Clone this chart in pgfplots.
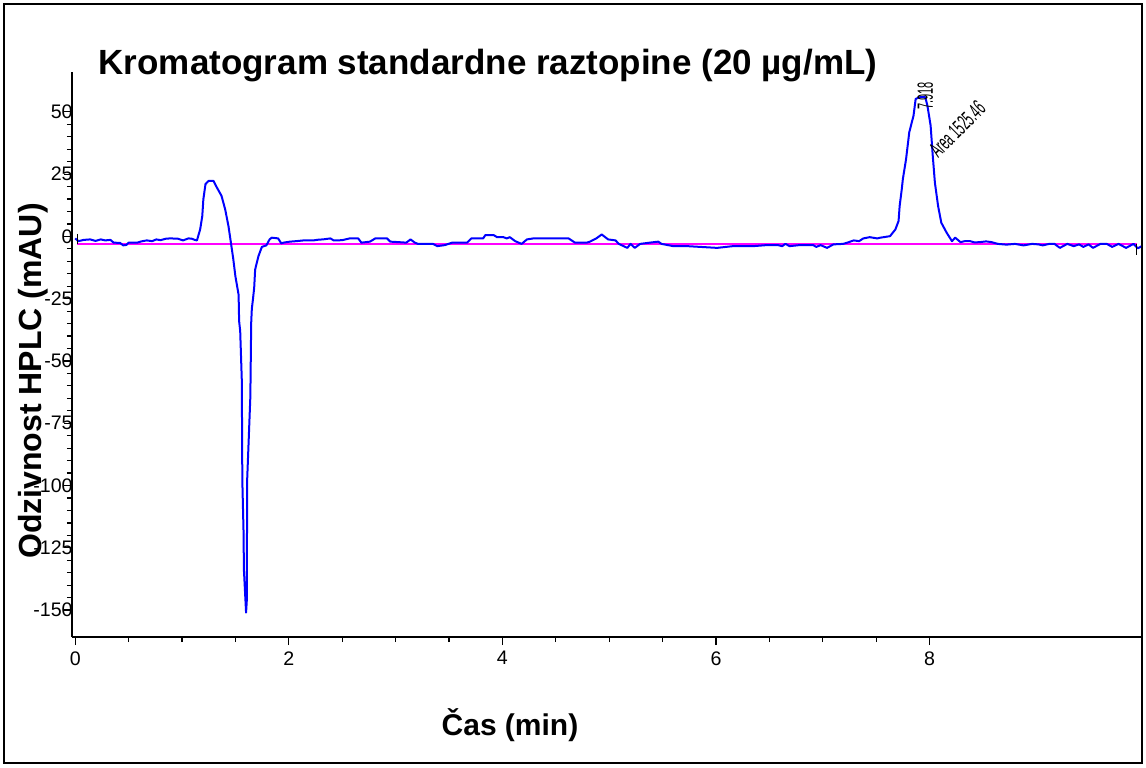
\documentclass[border=0pt]{standalone}
\usepackage{fontspec}
\setmainfont{Liberation Sans}
\usepackage{pgfplots}
\pgfplotsset{compat=1.18}
\usepackage{graphicx}
\definecolor{trace}{RGB}{0,0,255}
\definecolor{base}{RGB}{255,0,255}
\begin{document}
\begin{tikzpicture}
\useasboundingbox (0,0) rectangle (573pt,383.5pt);
\draw[line width=0.8pt] (2pt,2pt) rectangle (571pt,381.5pt);
\begin{axis}[
  at={(36pt,65pt)}, anchor=south west,
  scale only axis, width=534.5pt, height=282.5pt,
  xmin=-0.03, xmax=9.98, ymin=-160.8, ymax=66,
  axis x line=bottom, axis y line=left,
  axis line style={line width=0.75pt,-},
  xtick={0,2,4,6,8}, minor x tick num=3,
  ytick={-150,-125,-100,-75,-50,-25,0,25,50}, minor y tick num=4,
  tick align=outside,
  major tick length=4pt, minor tick length=2.5pt,
  tick style={line width=0.6pt,black},
  /pgf/number format/assume math mode=true,
  ticklabel style={font=\fontsize{9.8}{11}\selectfont},
  yticklabel style={inner sep=0pt, xshift=4.5pt},
  xticklabel style={inner sep=0pt, yshift=-3pt},
  clip=true,
]
\addplot[base, line width=1pt] coordinates {(0.015,-3) (9.94,-3)};
\addplot[trace, line width=1pt, line join=round] coordinates {
(0.00,-0.8) (0.03,-1.9) (0.08,-1.4) (0.14,-1.2) (0.19,-1.8) (0.24,-1.2) (0.28,-1.6) (0.33,-1.4) (0.36,-2.5) (0.42,-2.6) (0.45,-3.6) (0.48,-3.4) (0.50,-2.5) (0.58,-2.5) (0.62,-2.0) (0.67,-1.6) (0.72,-1.9) (0.76,-1.2) (0.80,-1.5) (0.85,-0.9) (0.89,-0.8) (0.96,-0.9) (1.01,-1.6) (1.06,-0.8) (1.09,-0.9) (1.12,-1.4) (1.14,-1.6)
(1.17,2.8) (1.19,8.2) (1.20,14.9) (1.22,21) (1.25,22.3) (1.295,22.3) (1.327,19.6) (1.37,16.3) (1.404,10.9) (1.435,4.2) (1.458,-2.5) (1.48,-9) (1.50,-16) (1.53,-23.4) (1.535,-34) (1.545,-38) (1.56,-57.7) (1.565,-98) (1.576,-118) (1.58,-134) (1.60,-151) (1.607,-146) (1.61,-98) (1.64,-64.4) (1.648,-34.7) (1.654,-29) (1.664,-25.4) (1.676,-20.6) (1.685,-13.3) (1.716,-7.9) (1.748,-4.2) (1.79,-3.6) (1.82,-1.2) (1.84,-0.5) (1.90,-0.8) (1.93,-2.8)
(1.95,-2.5) (2.01,-2.1) (2.07,-1.9) (2.14,-1.6) (2.23,-1.6) (2.28,-1.3) (2.32,-1.2) (2.39,-0.8) (2.42,-1.6) (2.45,-1.6) (2.50,-1.5) (2.57,-0.8) (2.65,-0.8) (2.68,-2.5) (2.76,-2.1) (2.81,-0.8) (2.92,-0.8) (2.95,-2.1) (3.03,-2.3) (3.10,-2.5) (3.14,-1.2) (3.18,-2.5) (3.21,-3.0) (3.35,-3.0) (3.39,-3.9) (3.46,-3.5) (3.53,-2.5) (3.59,-2.5) (3.67,-2.5) (3.71,-0.8) (3.82,-0.8) (3.84,0.5) (3.92,0.5) (3.95,-0.3) (4.01,-0.3) (4.04,-0.8) (4.07,-0.3) (4.12,-1.9) (4.18,-3.0) (4.23,-1.2) (4.29,-0.8) (4.42,-0.8) (4.62,-0.8) (4.68,-2.5) (4.79,-2.5) (4.82,-2.1) (4.88,-0.8) (4.93,0.8) (4.99,-1.2) (5.06,-1.6) (5.09,-3.0) (5.17,-4.6) (5.20,-3.0) (5.24,-4.6) (5.29,-3.0) (5.38,-2.5) (5.46,-2.1) (5.49,-3.0) (5.60,-3.9) (5.73,-3.9) (5.85,-4.2) (6.01,-4.6) (6.16,-3.9) (6.35,-3.9) (6.47,-3.5) (6.58,-3.5) (6.62,-3.9) (6.65,-3.0) (6.69,-3.9) (6.78,-3.5) (6.91,-3.5) (6.94,-4.2) (6.98,-3.5) (7.04,-4.6) (7.10,-3.2) (7.19,-3.0) (7.23,-2.5) (7.29,-1.6) (7.34,-1.9) (7.38,-0.8) (7.44,-0.3) (7.51,-0.8) (7.54,-0.5) (7.63,0.1)
(7.68,2.8) (7.71,6.2) (7.72,12.2) (7.74,19) (7.75,23) (7.78,31) (7.81,41.8) (7.85,48.5) (7.87,55.2) (7.91,55.9) (7.96,55.9) (7.98,52.5) (8.01,44.5) (8.03,32.4) (8.05,21.6) (8.08,12.2) (8.11,5.5) (8.16,1.5) (8.21,-1.9) (8.24,-0.5) (8.29,-2.3) (8.33,-1.9) (8.38,-1.9) (8.42,-2.4) (8.47,-2.3) (8.53,-2.0) (8.58,-2.3) (8.64,-3.0) (8.72,-3.3) (8.80,-3.0) (8.88,-3.6) (8.96,-3.0) (9.02,-3.2) (9.06,-3.6) (9.12,-3.0) (9.17,-3.0) (9.22,-4.6) (9.29,-3.0) (9.35,-3.9) (9.40,-3.2) (9.44,-4.2) (9.49,-3.2) (9.53,-4.6) (9.60,-3.0) (9.66,-3.0) (9.71,-4.2) (9.77,-3.0) (9.84,-4.6) (9.91,-3.0) (9.95,-4.8) (10.0,-3.6)
};
\addplot[black, line width=0.6pt] coordinates {(0.02,1) (0.02,-3)};
\addplot[black, line width=0.6pt] coordinates {(9.94,-3) (9.94,-7.5)};
\node[rotate=90, inner sep=0pt, font=\fontsize{11}{12}\selectfont] at (axis cs:7.96,56.5) {\scalebox{0.5}[1]{7.918}};
\node[rotate=45, inner sep=0pt, font=\fontsize{11}{12}\selectfont] at (axis cs:8.26,43) {\scalebox{0.52}[1]{Area 1525.46}};
\end{axis}
\node[anchor=base, font=\fontsize{17.5}{20}\selectfont\bfseries] at (244pt,346pt) {Kromatogram standardne raztopine (20 µg/mL)};
\node[rotate=90, font=\fontsize{16}{19}\selectfont\bfseries] at (16.5pt,193pt) {Odzivnost HPLC (mAU)};
\node[anchor=base, font=\fontsize{15}{18}\selectfont\bfseries] at (255pt,16pt) {Čas (min)};
\end{tikzpicture}
\end{document}
